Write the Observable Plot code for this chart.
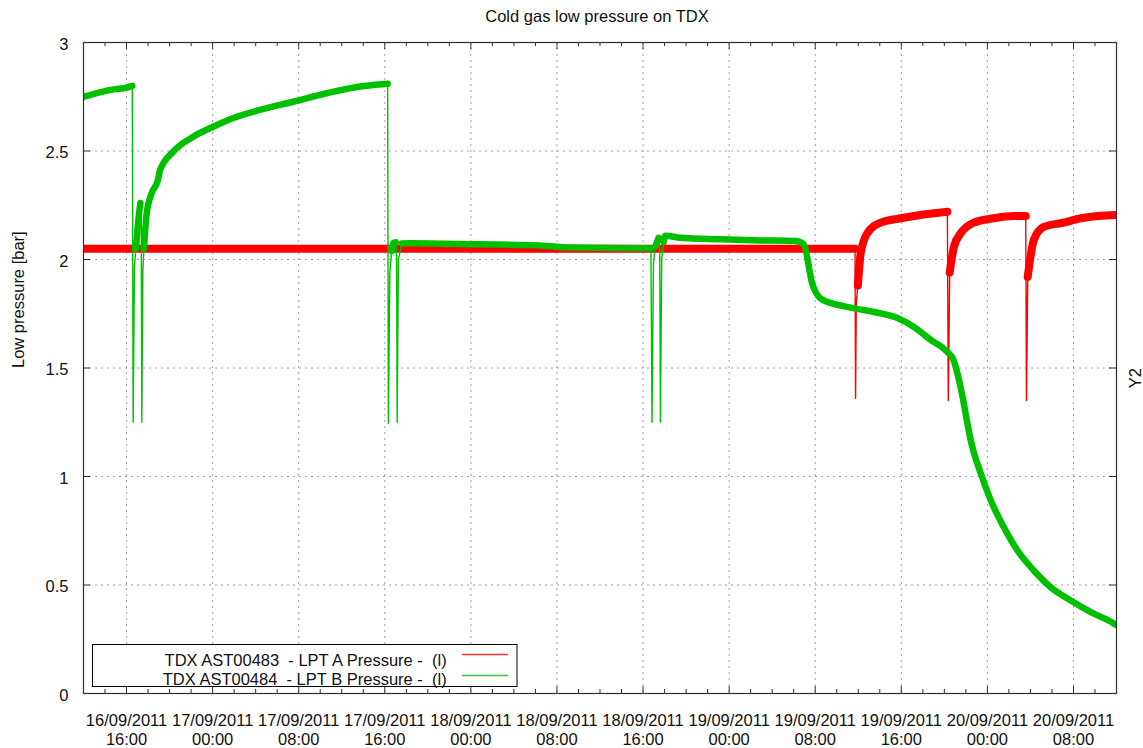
<!DOCTYPE html>
<html><head><meta charset="utf-8">
<script src="https://cdn.jsdelivr.net/npm/d3@7"></script>
<script src="https://cdn.jsdelivr.net/npm/@observablehq/plot@0.6"></script>
<style>body{margin:0;background:#fff;} svg{display:block;}</style>
</head><body><div id="chart"></div>
<script>
// ---------- data ----------
const chartTitle = "Cold gas low pressure on TDX";
const yAxisLabel = "Low pressure [bar]";
const y2AxisLabel = "Y2";
const seriesNames = ["TDX AST00483  - LPT A Pressure -  (l)", "TDX AST00484  - LPT B Pressure -  (l)"];
const xStart = "2011-09-16 12:00";
const xEnd = "2011-09-20 12:00";
const yTickValues = [0, 0.5, 1, 1.5, 2, 2.5, 3];

// LPT A (red); part "b" = noisy band, "s" = thin spike
const aTime = ["2011-09-16 12:00","2011-09-17 23:00","2011-09-19 11:42","2011-09-19 11:45","2011-09-19 11:49","2011-09-19 11:58","2011-09-19 12:14","2011-09-19 12:50","2011-09-19 14:04","2011-09-19 15:56","2011-09-19 17:47","2011-09-19 20:17","2011-09-19 20:22","2011-09-19 20:30","2011-09-19 20:54","2011-09-19 21:31","2011-09-19 22:44","2011-09-20 00:35","2011-09-20 02:27","2011-09-20 03:34","2011-09-20 03:38","2011-09-20 03:45","2011-09-20 04:19","2011-09-20 05:14","2011-09-20 07:06","2011-09-20 08:41","2011-09-20 12:00"];
const aValue = [2.05,2.05,2.05,1.36,1.80,1.88,2.03,2.12,2.17,2.19,2.205,2.22,1.35,1.94,2.06,2.12,2.17,2.19,2.20,2.20,1.35,1.92,2.09,2.15,2.17,2.19,2.205];
const aPart = ["b","b","b","s","s","b","b","b","b","b","b","b","s","b","b","b","b","b","b","b","s","b","b","b","b","b","b"];

// LPT B (green)
const bTime = ["2011-09-16 12:00","2011-09-16 13:31","2011-09-16 14:55","2011-09-16 15:50","2011-09-16 16:32","2011-09-16 16:37","2011-09-16 16:44","2011-09-16 16:52","2011-09-16 17:06","2011-09-16 17:17","2011-09-16 17:22","2011-09-16 17:25","2011-09-16 17:31","2011-09-16 17:37","2011-09-16 17:52","2011-09-16 18:20","2011-09-16 18:55","2011-09-16 19:06","2011-09-16 20:20","2011-09-16 22:12","2011-09-17 00:04","2011-09-17 01:55","2011-09-17 04:24","2011-09-17 07:30","2011-09-17 10:36","2011-09-17 13:42","2011-09-17 16:02","2011-09-17 16:16","2011-09-17 16:20","2011-09-17 16:28","2011-09-17 16:39","2011-09-17 16:46","2011-09-17 17:01","2011-09-17 17:06","2011-09-17 17:09","2011-09-17 17:16","2011-09-17 17:35","2011-09-17 18:21","2011-09-18 00:54","2011-09-18 06:27","2011-09-18 09:14","2011-09-18 15:45","2011-09-18 16:44","2011-09-18 16:50","2011-09-18 16:58","2011-09-18 17:08","2011-09-18 17:27","2011-09-18 17:33","2011-09-18 17:37","2011-09-18 17:44","2011-09-18 17:55","2011-09-18 18:04","2011-09-18 19:28","2011-09-18 23:12","2011-09-19 02:54","2011-09-19 06:10","2011-09-19 06:56","2011-09-19 07:43","2011-09-19 08:30","2011-09-19 09:26","2011-09-19 11:34","2011-09-19 14:04","2011-09-19 15:38","2011-09-19 17:08","2011-09-19 18:44","2011-09-19 20:17","2011-09-19 20:52","2011-09-19 21:31","2011-09-19 22:16","2011-09-19 22:27","2011-09-19 23:23","2011-09-20 00:19","2011-09-20 01:31","2011-09-20 02:47","2011-09-20 04:19","2011-09-20 05:53","2011-09-20 07:45","2011-09-20 09:37","2011-09-20 11:45","2011-09-20 12:00"];
const bValue = [2.75,2.77,2.785,2.79,2.80,1.25,1.97,2.05,2.18,2.26,2.20,1.25,1.95,2.05,2.21,2.306,2.366,2.41,2.497,2.566,2.612,2.652,2.689,2.727,2.766,2.797,2.809,2.81,1.244,1.94,2.04,2.075,2.08,2.05,1.25,2.0,2.074,2.075,2.07,2.065,2.055,2.052,2.052,1.25,1.98,2.06,2.10,2.06,1.25,2.0,2.08,2.11,2.10,2.093,2.088,2.085,2.07,1.89,1.82,1.80,1.776,1.752,1.73,1.69,1.63,1.574,1.536,1.41,1.213,1.167,1.015,0.89,0.767,0.66,0.567,0.49,0.429,0.375,0.323,0.315];
const bPart = ["b","b","b","b","b","s","s","b","b","b","s","s","s","b","b","b","b","b","b","b","b","b","b","b","b","b","b","b","s","s","b","b","b","s","s","s","b","b","b","b","b","b","b","s","s","b","b","s","s","s","b","b","b","b","b","b","b","b","b","b","b","b","b","b","b","b","b","b","b","b","b","b","b","b","b","b","b","b","b","b"];

// ---------- styling ----------
const W = 1143, H = 748;
const mL = 83, mR = 27, mT = 42, mB = 55;
const innerW = W - mL - mR, innerH = H - mT - mB;
const red = "#ff0000", green = "#00c000";
const gridColor = "#a0a0a0", axisColor = "#303030";
const font = "'Liberation Sans', Arial, sans-serif";
const fs = 16.5;

const parse = d3.utcParse("%Y-%m-%d %H:%M");
const mk = (T, V, P) => T.map((t, i) => ({t: parse(t), v: V[i], p: P[i]}));
const dataA = mk(aTime, aValue, aPart);
const dataB = mk(bTime, bValue, bPart);
const x0 = parse(xStart), x1 = parse(xEnd);
const major = d3.utcHour.every(8).range(x0, x1);
const minor = d3.utcHour.every(2).range(x0, x1).filter(d => d.getUTCHours() % 8 !== 0);
const fmt = d => d3.utcFormat("%d/%m/%Y")(d) + "\n" + d3.utcFormat("%H:%M")(d);
const band = d => d.p === "b" ? d.v : NaN;

const plot = Plot.plot({
  width: W, height: H,
  marginLeft: mL, marginRight: mR, marginTop: mT, marginBottom: mB,
  x: {type: "utc", domain: [x0, x1], axis: null},
  y: {domain: [0, 3], axis: null},
  style: {fontFamily: font, fontSize: fs + "px", color: "#111", background: "#fff"},
  marks: [
    // grid
    Plot.ruleX(major, {x: d => d, stroke: gridColor, strokeDasharray: "2,4", strokeWidth: 1}),
    Plot.ruleY(yTickValues.filter(v => v > 0 && v < 3), {y: d => d, stroke: gridColor, strokeDasharray: "2,4", strokeWidth: 1}),
    // series A (red)
    Plot.line(dataA, {x: "t", y: band, stroke: red, strokeWidth: 8, curve: "monotone-x", clip: true}),
    Plot.line(dataA, {x: "t", y: "v", stroke: red, strokeWidth: 1.4, clip: true}),
    // series B (green)
    Plot.line(dataB, {x: "t", y: band, stroke: green, strokeWidth: 6.5, curve: "monotone-x", clip: true}),
    Plot.line(dataB, {x: "t", y: "v", stroke: green, strokeWidth: 1.4, clip: true}),
    // frame
    Plot.frame({stroke: axisColor, strokeWidth: 1.2}),
    // ticks (inward, mirrored)
    Plot.ruleX(major, {x: d => d, insetTop: innerH - 7, stroke: axisColor}),
    Plot.ruleX(major, {x: d => d, insetBottom: innerH - 7, stroke: axisColor}),
    Plot.ruleX(minor, {x: d => d, insetTop: innerH - 4, stroke: axisColor}),
    Plot.ruleX(minor, {x: d => d, insetBottom: innerH - 4, stroke: axisColor}),
    Plot.ruleY(yTickValues, {y: d => d, insetRight: innerW - 7, stroke: axisColor}),
    Plot.ruleY(yTickValues, {y: d => d, insetLeft: innerW - 7, stroke: axisColor}),
    // tick labels
    Plot.text(major, {x: d => d, text: fmt, frameAnchor: "bottom", lineAnchor: "top", dy: 19.5, lineHeight: 1.12, fill: "#111"}),
    Plot.text(yTickValues, {y: d => d, text: d => String(d), frameAnchor: "left", textAnchor: "end", dx: -15, dy: 2, fill: "#111"}),
    // title and axis labels
    Plot.text([chartTitle], {text: d => d, frameAnchor: "top", dy: -26, dx: -3, lineAnchor: "middle", fill: "#111"}),
    Plot.text([yAxisLabel], {text: d => d, frameAnchor: "left", rotate: -90, dx: -65, lineAnchor: "middle", fill: "#111"}),
    Plot.text([y2AxisLabel], {text: d => d, frameAnchor: "right", rotate: -90, dx: 19, lineAnchor: "middle", fill: "#111"})
  ]
});

// legend (opaque box, bottom-left inside the plot)
const svg = d3.select(plot);
const lg = svg.append("g").attr("font-family", font).attr("font-size", fs);
lg.append("rect").attr("x", 92.5).attr("y", 644.5).attr("width", 424.5).attr("height", 42)
  .attr("fill", "#fff").attr("stroke", "#000").attr("stroke-width", 1);
const legendColors = [red, green];
const rowText = [665.8, 685];
const rowLine = [654.5, 675.5];
seriesNames.forEach((name, i) => {
  lg.append("text").attr("x", 446.7).attr("y", rowText[i]).attr("text-anchor", "end")
    .attr("fill", "#111").style("white-space", "pre").text(name);
  lg.append("line").attr("x1", 462).attr("x2", 508).attr("y1", rowLine[i]).attr("y2", rowLine[i])
    .attr("stroke", legendColors[i]).attr("stroke-width", 1.5).attr("opacity", 0.8);
});

document.getElementById("chart").appendChild(plot);
</script></body></html>
